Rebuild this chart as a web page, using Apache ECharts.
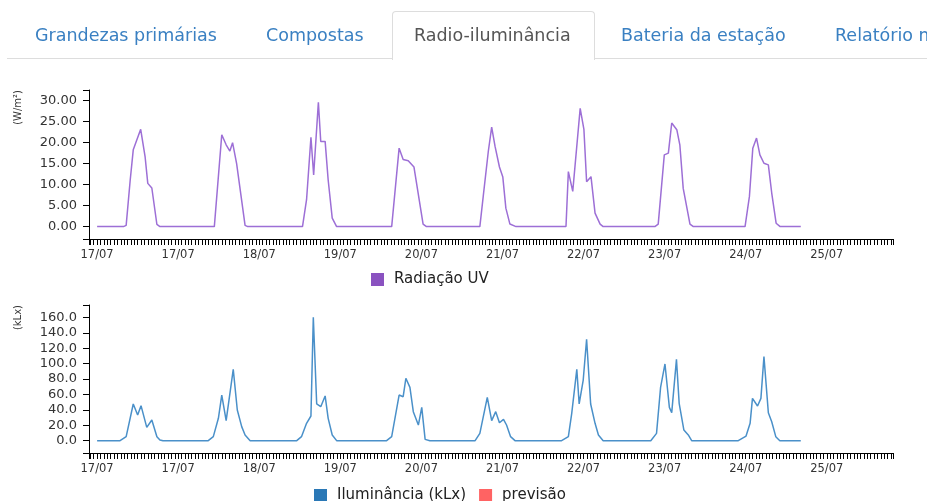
<!DOCTYPE html>
<html>
<head>
<meta charset="utf-8">
<script src="https://cdn.jsdelivr.net/npm/echarts@6/dist/echarts.min.js"></script>
<style>
html,body{margin:0;padding:0;background:#fff;}
#wrap{position:relative;width:927px;height:501px;overflow:hidden;}
#chart{position:absolute;left:0;top:0;width:927px;height:501px;}
#tabs{position:absolute;left:0;top:0;width:927px;height:62px;z-index:2;font-family:"DejaVu Sans",sans-serif;font-size:17.5px;line-height:20px;}
#tabs .line{position:absolute;left:7px;right:0;top:58px;height:1px;background:#ddd;}
#tabs .act{position:absolute;left:392px;top:11px;width:201px;height:48px;border:1px solid #ddd;border-bottom:none;border-radius:4px 4px 0 0;background:#fff;}
#tabs span{position:absolute;top:25px;white-space:nowrap;color:#3a80c2;}
#tabs span.on{color:#555;}
</style>
</head>
<body>
<div id="wrap">
<div id="chart"></div>
<div id="tabs">
  <div class="line"></div>
  <div class="act"></div>
  <span style="left:35px">Grandezas primárias</span>
  <span style="left:266px">Compostas</span>
  <span class="on" style="left:414px">Radio-iluminância</span>
  <span style="left:621px">Bateria da estação</span>
  <span style="left:835px">Relatório meteorológico</span>
</div>
</div>
<script>
// ---- data (hours since first day label) ----
const dayLabels = ['17/07','17/07','18/07','19/07','20/07','21/07','22/07','23/07','24/07','25/07'];
const uvTickLabels = [0, 5, 10, 15, 20, 25, 30];
const luxTickLabels = [0, 20, 40, 60, 80, 100, 120, 140, 160];

const uvHours = [0, 7.8, 8.6, 9.8, 10.7, 12.9, 14.2, 15.0, 16.2, 17.7, 18.6,
  34.7, 36.9, 38.2, 39.3, 40.1, 41.3, 43.8, 44.6,
  60.8, 62.0, 63.3, 64.1, 65.5, 66.2, 67.5, 68.4, 69.6, 70.9,
  87.2, 89.4, 90.6, 92.1, 93.8, 96.5, 97.5,
  113.3, 114.3, 115.8, 116.8, 117.8, 119.1, 120.1, 121.0, 122.2, 124.0,
  138.8, 139.5, 140.8, 143.0, 144.1, 144.9, 146.2, 147.4, 148.9, 149.8,
  165.1, 166.1, 167.9, 169.1, 170.1, 171.6, 172.5, 173.5, 175.5, 176.5,
  191.8, 193.1, 194.1, 195.2, 196.2, 197.4, 198.7, 199.7, 201.0, 202.2,
  208.3];
const uvValues = [0, 0, 0.3, 11.1, 18.3, 23.2, 16.7, 10.3, 9.2, 0.5, 0,
  0, 21.9, 19.5, 18.0, 20.0, 15.0, 0.3, 0,
  0, 6.4, 21.3, 12.3, 29.6, 20.3, 20.3, 11.1, 2.0, 0,
  0, 18.7, 16.0, 15.7, 14.2, 0.6, 0,
  0, 7.2, 17.9, 23.7, 19.1, 14.2, 11.8, 4.4, 0.6, 0,
  0, 13.1, 8.4, 28.2, 23.2, 10.7, 11.9, 3.2, 0.6, 0,
  0, 0.6, 17.1, 17.5, 24.7, 23.1, 19.5, 9.1, 0.6, 0,
  0, 7.2, 18.7, 21.1, 17.1, 15.1, 14.7, 8.0, 0.8, 0,
  0];

const luxHours = [0, 6.8, 8.6, 10.7, 12.0, 13.0, 14.7, 16.2, 17.7, 18.6, 19.5,
  32.9, 34.4, 35.9, 36.9, 38.2, 40.3, 41.5, 42.8, 43.8, 45.3,
  59.1, 60.5, 62.0, 63.3, 64.0, 65.0, 66.2, 67.5, 68.4, 69.6, 70.9,
  85.7, 87.2, 89.4, 90.6, 91.4, 92.6, 93.6, 95.1, 96.1, 97.1, 98.5,
  111.9, 113.3, 115.5, 116.8, 118.0, 119.1, 120.3, 121.2, 122.4, 123.7,
  137.5, 139.5, 140.5, 142.0, 142.7, 143.9, 144.9, 146.1, 147.4, 148.4, 149.8,
  163.9, 165.6, 166.8, 168.1, 169.4, 170.1, 171.5, 172.3, 173.7, 175.0, 176.0,
  189.8, 192.1, 193.3, 194.0, 195.5, 196.5, 197.4, 198.7, 199.7, 200.9, 202.1,
  208.3];
const luxValues = [0, 0, 5.2, 47.6, 33.3, 45.4, 17.3, 26.8, 5.2, 0.9, 0,
  0, 5.2, 29, 59.2, 26, 92.5, 39.8, 18.2, 7.4, 0,
  0, 5.2, 22.5, 32, 160, 47.6, 44.1, 58, 29, 7.4, 0,
  0, 5.2, 59.2, 57, 80.9, 69.2, 37.6, 20.3, 43.2, 1.7, 0,
  0, 9.5, 56.2, 26, 37.6, 23.3, 27.7, 20.3, 5.2, 0,
  0, 5.2, 35.5, 92.5, 47.6, 78.7, 131.5, 47.6, 22.5, 7.4, 0,
  0, 9.5, 69.2, 99.5, 43.2, 36.3, 105.5, 48.4, 13.8, 7.4, 0,
  0, 6, 22.5, 54.9, 45, 54.9, 109, 36.3, 24.6, 5.2, 0,
  0];
const forecastValues = [];

// ---- build ----
const FONT = 'DejaVu Sans';
const xMin = -2.4, xMax = 235.6;
const hourTicks = [xMin];
for (let h = Math.ceil(xMin); h <= Math.floor(xMax); h++) hourTicks.push(h);
hourTicks.push(xMax);
const labelHours = dayLabels.map((_, i) => i * 24);

function padRange(vals) {
  const mx = Math.max.apply(null, vals), mn = Math.min.apply(null, vals);
  const p = (mx - mn) * 0.1;
  return [mn - p, mx + p];
}
const uvRange = padRange(uvValues);
const luxRange = padRange(luxValues);

function xAxisCfg(gi) {
  return {
    type: 'value', gridIndex: gi, min: xMin, max: xMax,
    axisLine: { show: true, onZero: false, lineStyle: { color: '#000', width: 1 } },
    axisTick: { show: true, length: 6, customValues: hourTicks, lineStyle: { color: '#000', width: 1 } },
    axisLabel: {
      customValues: labelHours, margin: 10, color: '#333', fontSize: 11.5, fontFamily: FONT,
      formatter: v => dayLabels[Math.round(v / 24)] || ''
    },
    splitLine: { show: false }
  };
}
function yAxisCfg(gi, range, labels, dec) {
  return {
    type: 'value', gridIndex: gi, min: range[0], max: range[1],
    axisLine: { show: true, onZero: false, lineStyle: { color: '#000', width: 1 } },
    axisTick: { show: true, length: 6, customValues: [range[0]].concat(labels, [range[1]]), lineStyle: { color: '#000', width: 1 } },
    axisLabel: {
      customValues: labels, margin: 12, color: '#333', fontSize: 13, fontFamily: FONT,
      formatter: v => Number(v).toFixed(dec)
    },
    splitLine: { show: false }
  };
}
const zip = (a, b) => a.map((h, i) => [h, b[i]]);

const chart = echarts.init(document.getElementById('chart'), null, { renderer: 'canvas' });
chart.setOption({
  animation: false,
  textStyle: { fontFamily: FONT },
  grid: [
    { left: 89, right: 34, top: 90, height: 149 },
    { left: 89, right: 34, top: 305, height: 148 }
  ],
  xAxis: [xAxisCfg(0), xAxisCfg(1)],
  yAxis: [yAxisCfg(0, uvRange, uvTickLabels, 2), yAxisCfg(1, luxRange, luxTickLabels, 1)],
  legend: [
    {
      left: 371, top: 272, padding: 0, icon: 'rect', itemWidth: 13, itemHeight: 13, itemGap: 14,
      textStyle: { fontSize: 15, color: '#222', fontFamily: FONT, lineHeight: 13, padding: [0, 0, 0, 5] },
      data: [{ name: 'Radiação UV', itemStyle: { color: '#8a52c0' } }]
    },
    {
      left: 314, top: 488, padding: 0, icon: 'rect', itemWidth: 13, itemHeight: 13, itemGap: 13,
      textStyle: { fontSize: 15, color: '#222', fontFamily: FONT, lineHeight: 13, padding: [0, 0, 0, 5] },
      data: [
        { name: 'Iluminância (kLx)', itemStyle: { color: '#2a78b6' } },
        { name: 'previsão', itemStyle: { color: '#ff6363' } }
      ]
    }
  ],
  graphic: [
    { type: 'text', x: 18, y: 90, rotation: Math.PI / 2,
      style: { text: '(W/m²)', textAlign: 'right', align: 'right', textVerticalAlign: 'middle', verticalAlign: 'middle', fontSize: 10, fontFamily: FONT, fill: '#333' } },
    { type: 'text', x: 18, y: 305, rotation: Math.PI / 2,
      style: { text: '(kLx)', textAlign: 'right', align: 'right', textVerticalAlign: 'middle', verticalAlign: 'middle', fontSize: 10, fontFamily: FONT, fill: '#333' } }
  ],
  series: [
    { name: 'Radiação UV', type: 'line', xAxisIndex: 0, yAxisIndex: 0, showSymbol: false,
      itemStyle: { color: '#8a52c0' }, lineStyle: { color: '#9d6fd6', width: 1.5 },
      data: zip(uvHours, uvValues) },
    { name: 'Iluminância (kLx)', type: 'line', xAxisIndex: 1, yAxisIndex: 1, showSymbol: false,
      itemStyle: { color: '#2a78b6' }, lineStyle: { color: '#4a90c9', width: 1.5 },
      data: zip(luxHours, luxValues) },
    { name: 'previsão', type: 'line', xAxisIndex: 1, yAxisIndex: 1, showSymbol: false,
      itemStyle: { color: '#ff6363' }, lineStyle: { color: '#ff6363', width: 1.5 },
      data: forecastValues }
  ]
});
</script>
</body>
</html>
